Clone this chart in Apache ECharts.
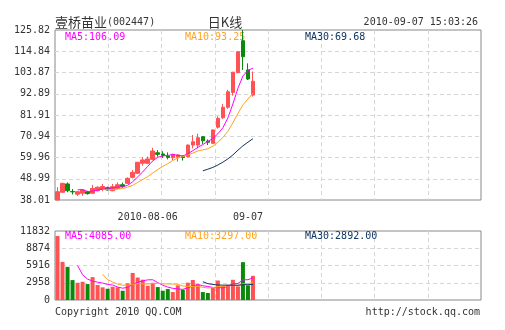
<!DOCTYPE html>
<html>
<head>
<meta charset="utf-8">
<script src="https://cdn.jsdelivr.net/npm/echarts@6/dist/echarts.min.js"></script>
<style>
  html, body { margin: 0; padding: 0; background: #fff; }
  #chart { width: 505px; height: 330px; }
</style>
</head>
<body>
<div id="chart"></div>
<script>
// ---- daily K-line data (price in yuan, volume in lots) ----
const opens  = [38.01, 42.0, 46.3, 42.4, 41.0, 41.5, 42.3, 41.5, 42.8, 43.5,
                44.4, 42.8, 44.0, 45.9, 46.6, 49.7, 51.8, 57.0, 57.0, 59.0,
                62.4, 61.8, 60.7, 59.9, 60.2, 60.6, 60.4, 66.4, 66.4, 70.7,
                68.4, 67.3, 75.6, 80.5, 85.9, 93.6, 103.8, 120.3, 105.2, 92.2];
const closes = [42.3, 46.6, 42.8, 42.2, 42.3, 43.2, 41.3, 44.0, 44.6, 45.0,
                43.2, 44.9, 45.9, 44.9, 49.2, 52.3, 57.5, 58.7, 59.2, 63.3,
                61.6, 61.0, 60.0, 61.6, 61.3, 60.0, 66.4, 68.1, 70.2, 68.6,
                67.85, 74.2, 80.2, 85.9, 93.9, 104.0, 114.6, 112.0, 100.5, 99.35];
const lows   = [38.01, 41.8, 42.0, 40.9, 40.1, 40.2, 40.8, 41.2, 42.5, 42.5,
                42.9, 42.5, 43.5, 44.4, 46.4, 49.2, 51.5, 55.7, 56.5, 58.5,
                60.4, 59.7, 59.0, 58.5, 57.8, 58.4, 59.9, 64.7, 64.7, 67.0,
                66.4, 66.9, 74.9, 79.9, 85.1, 91.9, 103.5, 105.2, 100.0, 91.4];
const highs  = [44.6, 46.9, 47.1, 43.7, 42.6, 43.7, 42.8, 45.8, 45.1, 46.3,
                44.9, 46.3, 47.1, 47.0, 49.7, 53.5, 57.7, 60.1, 60.5, 65.0,
                63.8, 63.2, 62.6, 61.9, 61.6, 61.0, 66.6, 71.6, 72.3, 71.0,
                69.3, 74.4, 81.3, 87.6, 94.9, 104.2, 114.8, 125.82, 108.6, 104.4];
const volumes = [11832, 7047, 6127, 3680, 3183, 3367, 2944, 4232, 2760, 2337,
                 2079, 2447, 2337, 1711, 3073, 5000, 4150, 3750, 2631, 3183,
                 2392, 1711, 2024, 1472, 2705, 1895, 3200, 3700, 2860, 1470,
                 1290, 2260, 3600, 2580, 2815, 3735, 2521, 6992, 2705, 4472];

// ---- axis tick labels ----
const priceTicks  = ['38.01', '48.99', '59.96', '70.94', '81.91', '92.89', '103.87', '114.84', '125.82'];
const volumeTicks = ['0', '2958', '5916', '8874', '11832'];
const dateTicks   = { 18: '2010-08-06', 38: '09-07' };

// ---- header / footer text ----
const stockName = '壹桥苗业';
const stockCode = '(002447)';
const chartTitle = '日K线';
const timestamp = '2010-09-07 15:03:26';
const copyright = 'Copyright 2010 QQ.COM';
const siteUrl = 'http://stock.qq.com';

// the day axis reserves room for more sessions than are drawn
const SESSION_SLOTS = 85;
// volume scale keeps a little headroom above the tallest bar
const VOLUME_AXIS_TOP = 12752;

const MONO = 'DejaVu Sans Mono';
const CJK = 'Noto Sans CJK SC';
const UP = '#ff5252';
const DOWN = '#0a8a0a';
const C_MA5 = '#ff00ff';
const C_MA10 = '#ffa21f';
const C_MA30 = '#0f3563';
const GRID_LINE = '#d6d6d6';
const TEXT = '#333';

function movingAverage(values, n) {
  return values.map((v, i) => {
    if (i < n - 1) return '-';
    let s = 0;
    for (let k = i - n + 1; k <= i; k++) s += values[k];
    return s / n;
  });
}
const last = arr => arr[arr.length - 1];

const slots = Array.from({ length: SESSION_SLOTS }, (_, i) => String(i));
const candles = opens.map((o, i) => [o, closes[i], lows[i], highs[i]]);
const pMA5 = movingAverage(closes, 5);
const pMA10 = movingAverage(closes, 10);
const pMA30 = movingAverage(closes, 30);
const vMA5 = movingAverage(volumes, 5);
const vMA10 = movingAverage(volumes, 10);
const vMA30 = movingAverage(volumes, 30);

const dashed = { show: true, showMinLine: false, showMaxLine: false,
                 lineStyle: { type: [4, 3], color: GRID_LINE, width: 1 } };
const monoLabel = { color: TEXT, fontFamily: MONO, fontSize: 10 };

function divisionAxis(gridIndex, count) {
  return { type: 'value', gridIndex, min: 0, max: count, interval: 1,
           axisLine: { show: false }, axisTick: { show: false },
           axisLabel: { show: false }, splitLine: dashed };
}

function maLine(data, color, xi, yi) {
  return { type: 'line', xAxisIndex: xi, yAxisIndex: yi, data, showSymbol: false,
           symbol: 'none', silent: true, lineStyle: { width: 1, color } };
}

function legendText(x, y, text, color) {
  return { type: 'text', x, y, z: 1,
           style: { text, fill: color, font: `10px "${MONO}"`, verticalAlign: 'middle' } };
}

const chart = echarts.init(document.getElementById('chart'), null, { renderer: 'canvas' });
chart.setOption({
  animation: false,
  backgroundColor: '#fff',
  grid: [
    { left: 55, top: 30, width: 426, height: 170, show: true, borderColor: '#888', borderWidth: 1 },
    { left: 55, top: 231, width: 426, height: 69, show: true, borderColor: '#888', borderWidth: 1 }
  ],
  xAxis: [
    { type: 'category', gridIndex: 0, data: slots, boundaryGap: true,
      axisLine: { show: false }, axisTick: { show: false }, splitLine: { show: false },
      axisLabel: Object.assign({}, monoLabel, {
        margin: 12,
        interval: idx => idx in dateTicks,
        formatter: (v, idx) => dateTicks[idx] || ''
      }) },
    { type: 'category', gridIndex: 1, data: slots, boundaryGap: true, show: false },
    divisionAxis(0, 8),
    divisionAxis(1, 8)
  ],
  yAxis: [
    { type: 'value', gridIndex: 0, min: 0, max: 8, interval: 1,
      axisLine: { show: false }, axisTick: { show: false }, splitLine: dashed,
      axisLabel: Object.assign({}, monoLabel, { margin: 5, formatter: v => priceTicks[v] }) },
    { type: 'value', gridIndex: 0, min: 38.01, max: 125.82, show: false },
    { type: 'value', gridIndex: 1, min: 0, max: 4, interval: 1,
      axisLine: { show: false }, axisTick: { show: false }, splitLine: dashed,
      axisLabel: Object.assign({}, monoLabel, { margin: 5, formatter: v => volumeTicks[v] }) },
    { type: 'value', gridIndex: 1, min: 0, max: VOLUME_AXIS_TOP, show: false }
  ],
  series: [
    { type: 'candlestick', xAxisIndex: 0, yAxisIndex: 1, data: candles, barWidth: 4,
      itemStyle: { color: UP, color0: DOWN, borderColor: UP, borderColor0: DOWN, borderWidth: 1 } },
    maLine(pMA5, C_MA5, 0, 1),
    maLine(pMA10, C_MA10, 0, 1),
    maLine(pMA30, C_MA30, 0, 1),
    { type: 'bar', xAxisIndex: 1, yAxisIndex: 3, barWidth: 4,
      data: volumes.map((v, i) => ({ value: v,
        itemStyle: { color: closes[i] >= opens[i] ? UP : DOWN } })) },
    maLine(vMA5, C_MA5, 1, 3),
    maLine(vMA10, C_MA10, 1, 3),
    maLine(vMA30, C_MA30, 1, 3)
  ],
  graphic: [
    { type: 'text', x: 55, y: 22,
      style: { text: `{cn|${stockName}}{mono|${stockCode}}`, verticalAlign: 'middle', fill: TEXT,
               rich: { cn: { fontFamily: CJK, fontSize: 13, fill: TEXT },
                       mono: { fontFamily: MONO, fontSize: 10, fill: TEXT } } } },
    { type: 'text', x: 225, y: 22,
      style: { text: chartTitle, font: `13px "${CJK}"`, fill: TEXT, align: 'center', verticalAlign: 'middle' } },
    { type: 'text', x: 478, y: 22,
      style: { text: timestamp, font: `10px "${MONO}"`, fill: TEXT, align: 'right', verticalAlign: 'middle' } },
    legendText(65, 37, 'MA5:' + last(pMA5).toFixed(2), C_MA5),
    legendText(185, 37, 'MA10:' + last(pMA10).toFixed(2), C_MA10),
    legendText(305, 37, 'MA30:' + last(pMA30).toFixed(2), C_MA30),
    legendText(65, 236, 'MA5:' + last(vMA5).toFixed(2), C_MA5),
    legendText(185, 236, 'MA10:' + last(vMA10).toFixed(2), C_MA10),
    legendText(305, 236, 'MA30:' + last(vMA30).toFixed(2), C_MA30),
    { type: 'text', x: 55, y: 312,
      style: { text: copyright, font: `10px "${MONO}"`, fill: TEXT, verticalAlign: 'middle' } },
    { type: 'text', x: 480, y: 312,
      style: { text: siteUrl, font: `10px "${MONO}"`, fill: TEXT, align: 'right', verticalAlign: 'middle' } }
  ]
});
</script>
</body>
</html>
